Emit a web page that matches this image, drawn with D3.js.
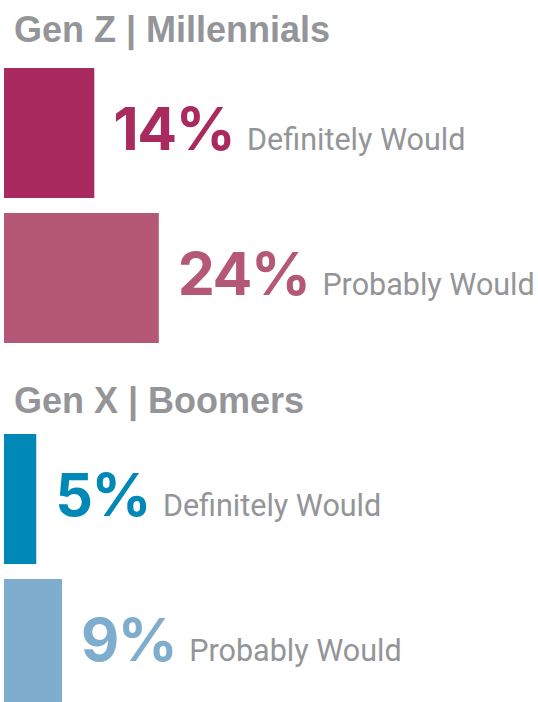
<!DOCTYPE html>
<html>
<head>
<meta charset="utf-8">
<script src="https://cdn.jsdelivr.net/npm/d3@7"></script>
<style>
  html, body { margin: 0; padding: 0; background: #fff; }
  svg { display: block; }
</style>
</head>
<body>
<svg id="chart" width="538" height="702"></svg>
<script>
// Survey answers by generation group
const groups = ["Gen Z | Millennials", "Gen X | Boomers"];
const answers = ["Definitely Would", "Probably Would"];
const genZMillennials = [14, 24];
const genXBoomers = [5, 9];
const groupColors = [
  ["#A92A5E", "#B45876"],
  ["#0088B6", "#7FADCE"]
];

const values = [genZMillennials, genXBoomers];

// Layout
const width = 538, height = 702;
const barLeft = 4;
const groupTops = [68, 434];
const titleBaselines = [42, 413];
const groupSpan = 275;
const grey = "#939598";
const titleFont = "'Liberation Sans', Arial, Helvetica, sans-serif";
const valueFont = "Inter, 'Liberation Sans', Arial, sans-serif";
const bodyFont = "Roboto, 'Liberation Sans', sans-serif";

const svg = d3.select("#chart");

const x = d3.scaleLinear().domain([0, 100]).range([0, 645]);

groups.forEach((name, gi) => {
  const g = svg.append("g");

  g.append("text")
    .attr("x", 14)
    .attr("y", titleBaselines[gi])
    .attr("font-family", titleFont)
    .attr("font-weight", 700)
    .attr("font-size", 36)
    .attr("fill", grey)
    .text(name);

  const y = d3.scaleBand()
    .domain(answers)
    .range([groupTops[gi], groupTops[gi] + groupSpan])
    .paddingInner(15 / 145)
    .paddingOuter(0);

  const rows = answers.map((a, i) => ({ answer: a, value: values[gi][i], color: groupColors[gi][i] }));

  g.selectAll("rect")
    .data(rows)
    .join("rect")
    .attr("x", barLeft)
    .attr("y", d => y(d.answer))
    .attr("width", d => x(d.value))
    .attr("height", y.bandwidth())
    .attr("fill", d => d.color);

  const labels = g.selectAll("g.label")
    .data(rows)
    .join("g")
    .attr("class", "label")
    .attr("transform", d => `translate(${barLeft + x(d.value) + 19},${y(d.answer) + y.bandwidth() / 2 + 17})`);

  labels.append("text")
    .attr("class", "value")
    .attr("font-family", valueFont)
    .attr("font-weight", 700)
    .attr("font-size", 59)
    .attr("letter-spacing", -1.5)
    .attr("fill", d => d.color)
    .text(d => d.value + "%");

  labels.each(function () {
    const sel = d3.select(this);
    const w = sel.select("text.value").node().getComputedTextLength();
    sel.append("text")
      .attr("x", w + 13)
      .attr("font-family", bodyFont)
      .attr("font-weight", 400)
      .attr("font-size", 30.5)
      .attr("fill", grey)
      .text(d => d.answer);
  });
});
</script>
</body>
</html>
